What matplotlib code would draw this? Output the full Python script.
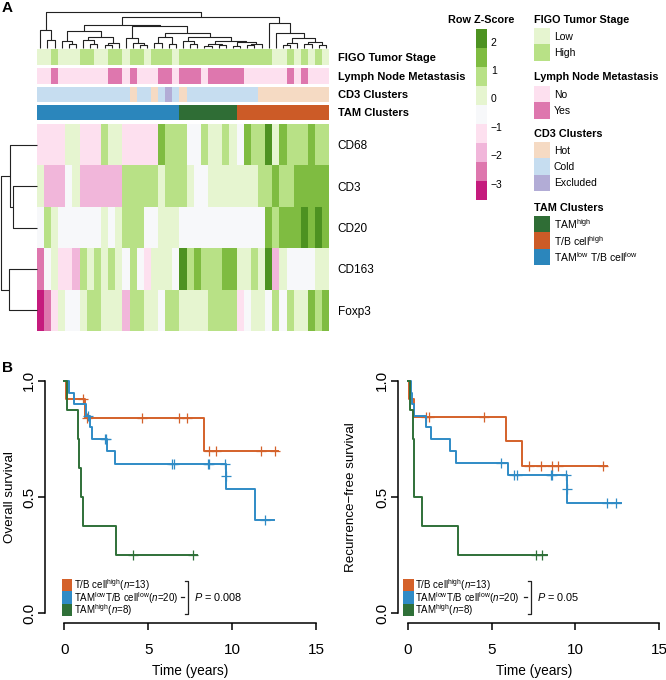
import numpy as np
import matplotlib
matplotlib.use("Agg")
import matplotlib.pyplot as plt
from matplotlib.colors import ListedColormap, BoundaryNorm
from matplotlib.patches import Rectangle

plt.rcParams['font.family'] = ['Liberation Sans', 'DejaVu Sans']
plt.rcParams['mathtext.fontset'] = 'custom'
plt.rcParams['mathtext.rm'] = 'Liberation Sans'
plt.rcParams['mathtext.it'] = 'Liberation Sans:italic'
plt.rcParams['mathtext.bf'] = 'Liberation Sans:bold'

# ---------------- data: heatmap (row z-scores, 41 patients) ----------------
markers = ['CD68', 'CD3', 'CD20', 'CD163', 'Foxp3']
cd68 = [-1.2, -1.2, -1.2, -1.2, 0.1, 0.1, -1.2, -1.2, -1.2, 0.8, 0.1, 0.1, -1.2, -1.2, -1.2, -1.2, -1.2, 1.4, 0.8, 0.8,
        0.8, -0.6, -0.6, 0.8, 0.1, 0.1, 0.8, 0.1, -0.6, 1.4, 0.8, 0.8, 2.1, 0.1, 1.4, 0.8, 0.8, 0.8, 1.4, 0.8, 0.8]
cd3 = [0.1, -1.9, -1.9, -1.9, -0.6, 0.1, -1.9, -1.9, -1.9, -1.9, -1.9, -1.9, 0.8, 0.8, 0.8, 0.8, 0.8, 0.1, 0.8, 0.8,
       0.8, 0.1, -0.6, -0.6, 0.1, 0.1, 0.1, 0.1, 0.1, 0.1, 0.1, 0.8, 0.8, 1.4, 0.8, 0.8, 1.4, 1.4, 1.4, 1.4, 1.4]
cd20 = [-0.6, 0.8, 0.1, -0.6, -0.6, -0.6, -0.6, -0.6, -0.6, 0.1, -0.6, 0.1, 0.8, 0.8, 0.8, -0.6, -0.6, 0.1, 0.1, 0.1,
        -0.6, -0.6, -0.6, -0.6, -0.6, -0.6, -0.6, -0.6, -0.6, -0.6, -0.6, -0.6, 1.4, 0.8, 1.4, 1.4, 1.4, 2.1, 1.4, 2.1, 1.4]
cd163 = [-2.6, -0.6, 0.1, -1.2, -1.2, -1.9, 0.8, 0.1, 0.8, 0.1, 0.8, 0.1, -0.6, 0.8, -0.6, -1.2, 0.1, 0.1, 0.1, -0.6,
         2.1, 0.8, 1.4, 0.8, 0.8, 0.8, 1.4, 1.4, 0.1, 0.1, 0.8, 0.1, 2.1, -1.9, 0.1, -0.6, -0.6, -0.6, -0.6, 0.1, 0.1]
foxp3 = [-3.3, -2.6, -1.2, 0.1, -0.6, -0.6, 0.1, 0.8, 0.8, 0.1, 0.1, 0.1, -1.9, 0.8, 0.8, 0.1, 0.1, -0.6, 0.8, 0.8,
         0.1, 0.1, 0.1, 0.1, 0.8, 0.8, 0.8, 0.8, -1.2, -0.6, 0.1, 0.1, -0.6, 0.8, -0.6, 0.8, 0.1, 0.1, 1.4, 0.8, 1.4]

# annotation tracks (one code per patient)
figo = "LLHLLLHHLLHHLHHLHHHL" + "HHHHHHHHHHHHH" + "LLHLHLHL"
lnm = "NNY" + "NNNNNNN" + "YY" + "N" + "Y" + "NNN" + "YY" + "N" + "YYY" + "N" + "YYYYY" + "NNNNNN" + "Y" + "N" + "Y" + "NNN"
cd3_cl = "CCCCCCCCCCCCC" + "H" + "CC" + "H" + "C" + "E" + "C" + "H" + "CCCCCCCCCC" + "HHHHHHHHHH"
tam_cl = "B" * 20 + "G" * 8 + "O" * 13

# dendrograms: (left, right, height); leaves = column/row index
col_tree = ((0, (1, 2, 0.22), 0.5),
            ((((3, (4, 5, 0.1), 0.2), ((6, (7, 8, 0.12), 0.22), ((9, 10, 0.08), 11, 0.14), 0.3), 0.48),
              ((12, (13, (14, 15, 0.08), 0.15), 0.28),
               (((16, 17, 0.15), (18, 19, 0.12), 0.3),
                ((20, (21, 22, 0.1), 0.2),
                 (((23, 24, 0.06), (25, 26, 0.08), 0.12), ((27, 28, 0.05), ((29, 30, 0.08), 31, 0.12), 0.16), 0.2),
                 0.3), 0.42), 0.615), 0.64),
             (32, (33, (((34, 35, 0.08), 36, 0.14), ((37, 38, 0.1), (39, 40, 0.08), 0.16), 0.28), 0.41), 0.69),
             0.86),
            1.0)
row_tree = ((0, (1, 2, 0.655), 0.75), (3, 4, 0.776), 1.0)

# ---------------- data: Kaplan-Meier curves ----------------
groups = ['T/B cell$^{\\mathrm{high}}$($\\it{n}$=13)',
          'TAM$^{\\mathrm{low}}$T/B cell$^{\\mathrm{low}}$($\\it{n}$=20)',
          'TAM$^{\\mathrm{high}}$($\\it{n}$=8)']
os_t = [[0, 0.1, 1.25, 8.3],
        [0, 0.3, 0.55, 1.3, 1.52, 1.63, 2.52, 3.0, 9.6, 9.62, 11.35],
        [0, 0.14, 0.79, 0.87, 0.99, 1.13, 3.06]]
os_s = [[1.0, 0.923, 0.839, 0.700],
        [1.0, 0.95, 0.90, 0.85, 0.80, 0.75, 0.70, 0.643, 0.59, 0.536, 0.402],
        [1.0, 0.875, 0.75, 0.625, 0.5, 0.375, 0.25]]
os_end = [12.75, 12.5, 7.88]
os_cens = [[1.1, 1.35, 4.65, 6.83, 7.33, 8.64, 9.03, 11.71, 12.55],
           [1.4, 2.4, 2.5, 6.43, 6.55, 8.58, 8.64, 9.58, 9.61, 11.95],
           [4.07, 7.68]]
rfs_t = [[0, 0.08, 0.38, 5.84, 6.8],
         [0, 0.18, 0.28, 0.38, 1.07, 1.37, 2.52, 2.88, 6.0, 9.5, 9.52],
         [0, 0.14, 0.34, 0.38, 0.4, 0.83, 3.02]]
rfs_s = [[1.0, 0.923, 0.846, 0.742, 0.634],
         [1.0, 0.95, 0.90, 0.85, 0.80, 0.75, 0.70, 0.645, 0.595, 0.536, 0.476],
         [1.0, 0.875, 0.75, 0.625, 0.5, 0.375, 0.25]]
rfs_end = [11.86, 12.7, 8.32]
rfs_cens = [[1.09, 1.29, 4.55, 7.25, 7.93, 8.62, 8.98, 11.66],
            [5.54, 6.36, 6.5, 8.52, 8.62, 9.45, 9.51, 11.9, 12.42],
            [7.63, 7.99]]
p_values = ['0.008', '0.05']

# ---------------- colours ----------------
z_bounds = [-3.58, -2.91, -2.24, -1.57, -0.90, -0.23, 0.44, 1.11, 1.78, 2.45]
z_colors = ['#c51b7d', '#de77ae', '#f1b6da', '#fde0ef', '#f7f8fa', '#e6f5d0', '#b8e186', '#7fbc41', '#4d9221']
z_cmap = ListedColormap(z_colors)
z_norm = BoundaryNorm(z_bounds, z_cmap.N)
figo_col = {'L': '#e6f5d0', 'H': '#b8e186'}
lnm_col = {'N': '#fde0ef', 'Y': '#de77ae'}
cd3_col = {'H': '#f5dac3', 'C': '#c6ddf0', 'E': '#b2acd6'}
tam_col = {'G': '#2f6d35', 'O': '#cc5b27', 'B': '#2b86bc'}
km_cols = ['#d4612a', '#2f8bc6', '#2f7038']

W, H = 666, 680
fig = plt.figure(figsize=(W / 100, H / 100), dpi=100)


def px_axes(x0, y0, x1, y1):
    return fig.add_axes([x0 / W, 1 - y1 / H, (x1 - x0) / W, (y1 - y0) / H])


def draw_tree(ax, node, vertical=True):
    if isinstance(node, int):
        return node + 0.5, 0.0
    left, right, h = node
    pl, hl = draw_tree(ax, left, vertical)
    pr, hr = draw_tree(ax, right, vertical)
    a, b = [pl, pl, pr, pr], [hl, h, h, hr]
    if vertical:
        ax.plot(a, b, color='#222222', lw=0.8, clip_on=False, solid_capstyle='butt')
    else:
        ax.plot(b, a, color='#222222', lw=0.8, clip_on=False, solid_capstyle='butt')
    return (pl + pr) / 2, h


HX0, HX1 = 36.7, 329.4
n = len(cd68)

# heatmap
Z = np.array([cd68, cd3, cd20, cd163, foxp3])
ax = px_axes(HX0, 124, HX1, 331)
ax.pcolormesh(np.arange(n + 1), np.arange(len(markers) + 1), Z, cmap=z_cmap, norm=z_norm)
ax.set_xlim(0, n)
ax.set_ylim(len(markers), 0)
ax.set_xticks([])
ax.yaxis.tick_right()
ax.set_yticks(np.arange(len(markers)) + 0.5)
ax.set_yticklabels(markers, fontsize=8.5)
ax.tick_params(axis='y', length=0, pad=6)
for s in ax.spines.values():
    s.set_visible(False)

# annotation tracks
tracks = [('FIGO Tumor Stage', figo, figo_col, 49, 65),
          ('Lymph Node Metastasis', lnm, lnm_col, 68, 83.5),
          ('CD3 Clusters', cd3_cl, cd3_col, 86.5, 101.5),
          ('TAM Clusters', tam_cl, tam_col, 104.5, 120)]
for name, codes, cmap_d, y0, y1 in tracks:
    keys = list(cmap_d.keys())
    vals = np.array([[keys.index(c) for c in codes]])
    a = px_axes(HX0, y0, HX1, y1)
    a.pcolormesh(np.arange(n + 1), [0, 1], vals, cmap=ListedColormap([cmap_d[k] for k in keys]),
                 vmin=-0.5, vmax=len(keys) - 0.5)
    a.set_xlim(0, n)
    a.set_xticks([])
    a.yaxis.tick_right()
    a.set_yticks([0.5])
    a.set_yticklabels([name], fontsize=8, fontweight='bold')
    a.tick_params(axis='y', length=0, pad=6)
    for s in a.spines.values():
        s.set_visible(False)

# dendrograms
ad = px_axes(HX0, 12.3, HX1, 48)
ad.set_xlim(0, n)
ad.set_ylim(0, 1)
draw_tree(ad, col_tree, True)
ad.axis('off')

ar = px_axes(1, 124, HX0, 331)
ar.set_xlim(1, 0)
ar.set_ylim(len(markers), 0)
draw_tree(ar, row_tree, False)
ar.axis('off')

# z-score colour key
ak = px_axes(475.7, 29, 486.7, 200)
ak.pcolormesh([0, 1], z_bounds, np.array([(np.array(z_bounds[:-1]) + np.array(z_bounds[1:])) / 2]).T,
              cmap=z_cmap, norm=z_norm)
ak.set_ylim(z_bounds[0], z_bounds[-1])
ak.set_xticks([])
ak.yaxis.tick_right()
ak.set_yticks([2, 1, 0, -1, -2, -3])
ak.set_yticklabels(['2', '1', '0', '\u22121', '\u22122', '\u22123'], fontsize=7.5)
ak.tick_params(axis='y', length=0, pad=3)
for s in ak.spines.values():
    s.set_visible(False)

# overlay for legends and panel letters (pixel coordinates)
ov = fig.add_axes([0, 0, 1, 1])
ov.set_xlim(0, W)
ov.set_ylim(H, 0)
ov.axis('off')
ov.text(481, 20, 'Row Z-Score', fontsize=7.8, fontweight='bold', ha='center', va='center')
ov.text(2, 8, 'A', fontsize=11, fontweight='bold', va='center')
ov.text(2, 368, 'B', fontsize=11, fontweight='bold', va='center')

legends = [('FIGO Tumor Stage', 20, 28, [('Low', figo_col['L']), ('High', figo_col['H'])]),
           ('Lymph Node Metastasis', 77.3, 86, [('No', lnm_col['N']), ('Yes', lnm_col['Y'])]),
           ('CD3 Clusters', 134, 142, [('Hot', cd3_col['H']), ('Cold', cd3_col['C']),
                                        ('Excluded', cd3_col['E'])]),
           ('TAM Clusters', 208.3, 216, [('TAM$^{\\mathrm{high}}$', tam_col['G']),
                                          ('T/B cell$^{\\mathrm{high}}$', tam_col['O']),
                                          ('TAM$^{\\mathrm{low}}$ T/B cell$^{\\mathrm{low}}$', tam_col['B'])])]
for title, ty, by, items in legends:
    ov.text(534, ty, title, fontsize=7.8, fontweight='bold', va='center')
    for i, (lab, c) in enumerate(items):
        ov.add_patch(Rectangle((534.3, by + 16.3 * i), 15.7, 16.3, facecolor=c, edgecolor='none'))
        ov.text(554, by + 16.3 * i + 8.5, lab, fontsize=7.5, va='center')

# ---------------- Kaplan-Meier panels ----------------
km_specs = [(os_t, os_s, os_end, os_cens, 'Overall survival', (45, 370, 330, 623.3), (-1.15, 15.82),
             p_values[0], 61.7, 187.5, 64.3, 10),
            (rfs_t, rfs_s, rfs_end, rfs_cens, 'Recurrence\u2212free survival', (398.3, 370, 666, 623.3),
             (-0.56, 15.4), p_values[1], 403.3, 531, 407.7, 351)]
for ts, ss, ends, cens, ylab, box, xl, pv, lx, bx, x0px, ylx in km_specs:
    a = px_axes(*box)
    for g in range(3):
        t = list(ts[g]) + [ends[g]]
        s = list(ss[g]) + [ss[g][-1]]
        a.step(t, s, where='post', color=km_cols[g], lw=1.4, clip_on=False)
        idx = np.searchsorted(ts[g], cens[g], side='right') - 1
        a.plot(cens[g], np.array(ss[g])[idx], '+', color=km_cols[g], ms=7, mew=0.9, clip_on=False)
    a.set_xlim(*xl)
    a.set_ylim(-0.043, 1.047)
    a.spines['top'].set_visible(False)
    a.spines['right'].set_visible(False)
    a.spines['left'].set_bounds(0, 1)
    a.spines['bottom'].set_bounds(0, 15)
    a.spines['left'].set_linewidth(1.1)
    a.spines['bottom'].set_linewidth(1.1)
    a.set_xticks([0, 5, 10, 15])
    a.set_xticklabels(['0', '5', '10', '15'], fontsize=11)
    a.set_yticks([0, 0.5, 1.0])
    a.set_yticklabels(['0.0', '0.5', '1.0'], fontsize=11, rotation=90, va='center')
    a.tick_params(direction='out', length=5, width=1.1)
    a.tick_params(axis='x', pad=9)
    a.tick_params(axis='y', pad=1.5)
    a.patch.set_alpha(0)
    ov.text(x0px + 126, 671, 'Time (years)', fontsize=9.8, ha='center', va='center')
    ov.text(ylx, 497, ylab, fontsize=9.6, ha='center', va='center', rotation=90)
    # legend (drawn in pixel space)
    for i, (lab, c) in enumerate(zip(groups, km_cols)):
        yc = 585 + 12.4 * i
        ov.add_patch(Rectangle((lx, yc - 6.2), 10.5, 12.4, facecolor=c, edgecolor='none'))
        ov.text(lx + 12, yc + 0.5, lab, fontsize=7.0, va='center')
    ov.plot([bx - 3, bx, bx, bx - 3], [581, 581, 614, 614], color='#222222', lw=0.9)
    ov.plot([bx - 7, bx - 4], [597.4, 597.4], color='#222222', lw=0.9)
    ov.text(bx + 6, 597.4, '$\\it{P}$ = ' + pv, fontsize=7.8, va='center')

fig.savefig('out.png', dpi=100)
